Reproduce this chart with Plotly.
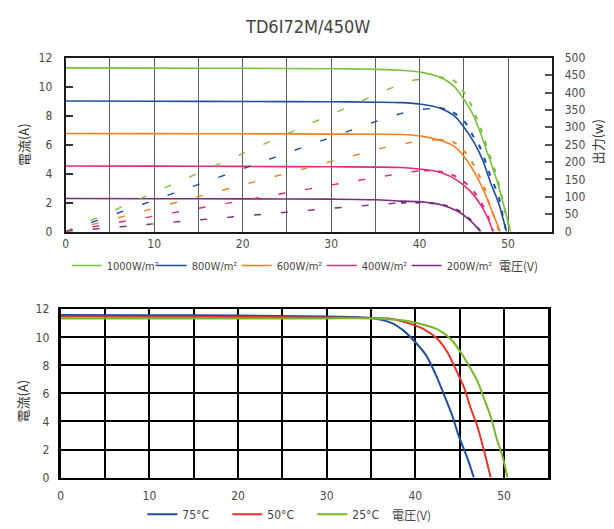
import plotly.graph_objects as go

# Reference canvas 614x529; the page puts the figure 8px in from the top-left corner
REF_W, REF_H = 614, 529
OFF = 8
W, H = REF_W - OFF, REF_H - OFF


def xp(X):
    return (X - OFF) / W


def yp(Y):
    return 1 - (Y - OFF) / H


# ---------------- Top chart: I-V (left axis, A) and P-V (right axis, W) ----------------
irr_labels = ["1000W/m²", "800W/m²", "600W/m²", "400W/m²", "200W/m²"]
irr_colors = ["#7cc142", "#1f4f9f", "#f28123", "#e6287b", "#7a2c83"]

v1000 = [0, 10, 20, 30, 35, 37.9, 40.2, 42.4, 43.9, 45.0, 46.0, 46.9, 47.8, 48.8, 49.5, 50.3]
i1000 = [11.30, 11.28, 11.27, 11.24, 11.20, 11.14, 10.99, 10.63, 10.02, 9.13, 8.12, 6.77, 5.20, 3.41, 1.84, 0]

v800 = [0, 10, 20, 30, 35, 37.9, 40.2, 42.4, 43.9, 45.0, 46.2, 47.1, 48.0, 49.0, 49.8]
i800 = [9.01, 9.00, 8.98, 8.96, 8.93, 8.90, 8.79, 8.50, 8.00, 7.22, 6.10, 4.98, 3.41, 1.84, 0]

v600 = [0, 10, 20, 30, 35, 37.9, 40.2, 42.4, 43.9, 45.0, 46.2, 47.3, 48.2, 49.1]
i600 = [6.77, 6.76, 6.75, 6.73, 6.72, 6.70, 6.59, 6.28, 5.88, 5.20, 4.08, 2.74, 1.39, 0]

v400 = [0, 10, 20, 30, 35, 37.9, 40.2, 42.4, 44.3, 45.8, 46.9, 47.7, 48.3]
i400 = [4.53, 4.52, 4.50, 4.47, 4.45, 4.42, 4.30, 4.08, 3.52, 2.74, 1.84, 0.94, 0]

v200 = [0, 10, 20, 30, 35, 37.9, 40.2, 42.4, 44.3, 45.8, 46.9]
i200 = [2.28, 2.27, 2.26, 2.24, 2.20, 2.10, 2.05, 1.85, 1.40, 0.72, 0]

pv1000 = [0, 10, 20, 30, 36.6, 39.4, 42.2, 43.1, 44.0, 44.8, 45.6, 46.4, 47.1, 47.7, 48.4, 49.0, 49.4, 49.8, 50.3]
pw1000 = [0, 112, 224, 336, 411, 436, 444, 441, 432, 408, 376, 329, 282, 235, 184, 133, 91, 39, 0]

pv800 = [0, 10, 20, 30, 36.4, 39.4, 42.3, 43.6, 44.8, 45.4, 46.0, 46.6, 47.1, 47.6, 48.0, 48.6, 49.0, 49.3, 49.8]
pw800 = [0, 90, 180, 270, 329, 350, 356, 345, 324, 305, 277, 254, 226, 189, 161, 123, 95, 58, 0]

pv600 = [0, 10, 20, 30, 36.2, 40.2, 42.1, 43.9, 45.0, 46.2, 46.9, 47.5, 47.8, 48.2, 49.0]
pw600 = [0, 67, 135, 202, 243, 262, 264, 256, 232, 188, 151, 114, 86, 58, 0]

pv400 = [0, 10, 20, 30, 38.7, 40.5, 42.4, 44.3, 45.8, 46.9, 47.7, 48.3]
pw400 = [0, 45, 90, 134, 171, 176, 172, 156, 125, 86, 45, 0]

pv200 = [0, 10, 20, 30, 37.9, 40.2, 42.4, 44.3, 45.8, 46.9]
pw200 = [0, 23, 45, 67, 83, 83, 78, 62, 33, 0]

# ---------------- Bottom chart: I-V at temperatures ----------------
temp_labels = ["75°C", "50°C", "25°C"]
temp_colors = ["#1d4f9e", "#e5352b", "#76b82a"]

v75 = [0, 10, 20, 30, 35, 37.3, 38.7, 40.0, 41.2, 42.3, 43.2, 44.2, 44.9, 45.9, 46.6]
i75 = [11.60, 11.58, 11.55, 11.48, 11.38, 11.03, 10.46, 9.65, 8.73, 7.34, 5.96, 4.34, 2.95, 1.34, 0]

v50 = [0, 10, 20, 30, 35, 37.3, 39.1, 41.0, 42.5, 43.6, 44.5, 45.5, 46.2, 47.0, 47.7, 48.5]
i50 = [11.48, 11.47, 11.45, 11.42, 11.38, 11.31, 11.03, 10.57, 9.88, 8.95, 7.80, 6.41, 5.03, 3.64, 2.03, 0]

v25 = [0, 10, 20, 30, 35, 38.0, 39.8, 42.5, 44.0, 45.1, 46.0, 47.0, 47.7, 48.5, 49.2, 49.8, 50.4]
i25 = [11.35, 11.35, 11.35, 11.35, 11.35, 11.25, 11.08, 10.57, 9.88, 8.95, 8.03, 6.88, 5.72, 4.34, 2.72, 1.57, 0]

dark_grid_a = [4, 6, 8]      # mid-gray horizontal grid values of the top chart
light_grid_a = [2, 10]       # light-gray horizontal grid values of the top chart

FONT = "Liberation Sans Narrow, DejaVu Sans Condensed, Roboto, sans-serif"
CJK = "Noto Sans CJK JP"
TICK = dict(family=FONT, size=12, color="#4a4a4a")

fig = go.Figure()

iv_top = [(v1000, i1000), (v800, i800), (v600, i600), (v400, i400), (v200, i200)]
pv_top = [(pv1000, pw1000), (pv800, pw800), (pv600, pw600), (pv400, pw400), (pv200, pw200)]

for (pv, pw), col in zip(pv_top, irr_colors):
    k = pw.index(max(pw))
    fig.add_trace(go.Scatter(x=pv[:k + 1], y=pw[:k + 1], xaxis="x", yaxis="y2", mode="lines",
                             line=dict(color=col, width=1.4, dash="7px,20px"),
                             showlegend=False, hoverinfo="skip"))
    fig.add_trace(go.Scatter(x=pv[k:], y=pw[k:], xaxis="x", yaxis="y2", mode="lines",
                             line=dict(color=col, width=2, dash="5px,9px", shape="spline"),
                             showlegend=False, hoverinfo="skip"))

for (v, i), col, name in zip(iv_top, irr_colors, irr_labels):
    fig.add_trace(go.Scatter(x=v, y=i, xaxis="x", yaxis="y", mode="lines", name=name,
                             line=dict(color=col, width=1.6, shape="spline", smoothing=0.8),
                             legend="legend"))

for (v, i), col, name in zip([(v75, i75), (v50, i50), (v25, i25)], temp_colors, temp_labels):
    fig.add_trace(go.Scatter(x=v, y=i, xaxis="x2", yaxis="y3", mode="lines", name=name,
                             line=dict(color=col, width=2, shape="spline", smoothing=0.8),
                             legend="legend2"))

top_dom = [yp(231), yp(52)]
bot_dom = [yp(484.3), yp(311)]

overlay_grid = dict(overlaying="y", anchor="x", range=[0, 12], showticklabels=False, ticks="",
                    showline=False, zeroline=False, showgrid=True)

fig.update_layout(
    width=W, height=H,
    margin=dict(l=0, r=0, t=0, b=0),
    paper_bgcolor="white", plot_bgcolor="white",
    font=dict(family=FONT, color="#444"),
    xaxis=dict(domain=[xp(63), xp(552)], anchor="y", range=[0, 55], tick0=0, dtick=10,
               showgrid=True, gridcolor="#5c5c5c", gridwidth=1.2,
               minor=dict(dtick=5, showgrid=True, gridcolor="#5c5c5c", gridwidth=1.2),
               showline=True, linecolor="#1a1a1a", linewidth=2, mirror=True,
               zeroline=False, ticks="", tickfont=TICK, ticklabelstandoff=0),
    yaxis=dict(domain=top_dom, anchor="x", range=[0, 12], dtick=2, showgrid=False,
               showline=True, linecolor="#1a1a1a", linewidth=2, mirror=True,
               zeroline=False, ticks="inside", ticklen=7, tickwidth=2, tickcolor="#333",
               tickfont=TICK, ticklabelstandoff=9),
    yaxis2=dict(overlaying="y", side="right", anchor="x", range=[0, 500], dtick=50,
                showgrid=False, zeroline=False, showline=True, linecolor="#1a1a1a", linewidth=2,
                ticks="inside", ticklen=7, tickwidth=1.5, tickcolor="#555",
                tickfont=TICK, ticklabelstandoff=8),
    yaxis4=dict(overlay_grid, tickvals=dark_grid_a, gridcolor="#8a8a8a", gridwidth=1.2),
    yaxis5=dict(overlay_grid, tickvals=light_grid_a, gridcolor="#d4d4d4", gridwidth=3),
    xaxis2=dict(domain=[xp(58), xp(548)], anchor="y3", range=[0, 55], tick0=0, dtick=10,
                showgrid=True, gridcolor="#000", gridwidth=1.5,
                minor=dict(dtick=5, showgrid=True, gridcolor="#000", gridwidth=1.5),
                showline=True, linecolor="#000", linewidth=2, mirror=True,
                zeroline=False, ticks="", tickfont=TICK, ticklabelstandoff=6),
    yaxis3=dict(domain=bot_dom, anchor="x2", range=[0, 12], dtick=2,
                showgrid=True, gridcolor="#000", gridwidth=1.5,
                showline=True, linecolor="#000", linewidth=3, mirror=True,
                zeroline=False, ticks="", tickfont=TICK, ticklabelstandoff=6),
    legend=dict(orientation="h", x=xp(64), xanchor="left", y=yp(266), yanchor="middle",
                font=dict(family=FONT, size=11, color="#444"), bgcolor="rgba(0,0,0,0)",
                entrywidth=40),
    legend2=dict(orientation="h", x=xp(140), xanchor="left", y=yp(522), yanchor="middle",
                 font=dict(family=FONT, size=12, color="#444"), bgcolor="rgba(0,0,0,0)",
                 entrywidth=40),
    showlegend=True,
)

ann = [
    dict(text="TD6I72M/450W", x=xp(306), y=yp(20), font=dict(family=FONT, size=18, color="#444")),
    dict(text="電流(A)", x=xp(20), y=yp(141), textangle=-90, font=dict(family=CJK, size=13, color="#333")),
    dict(text="出力(w)", x=xp(597), y=yp(139), textangle=-90, font=dict(family=CJK, size=13, color="#333")),
    dict(text="電圧(V)", x=xp(518), y=yp(266), font=dict(family=CJK, size=12, color="#444")),
    dict(text="電流(A)", x=xp(20), y=yp(405), textangle=-90, font=dict(family=CJK, size=13, color="#333")),
    dict(text="電圧(V)", x=xp(410), y=yp(522), font=dict(family=CJK, size=12, color="#444")),
]
for a in ann:
    fig.add_annotation(xref="paper", yref="paper", showarrow=False, xanchor="center", yanchor="middle", **a)

fig.write_html("out.html")
